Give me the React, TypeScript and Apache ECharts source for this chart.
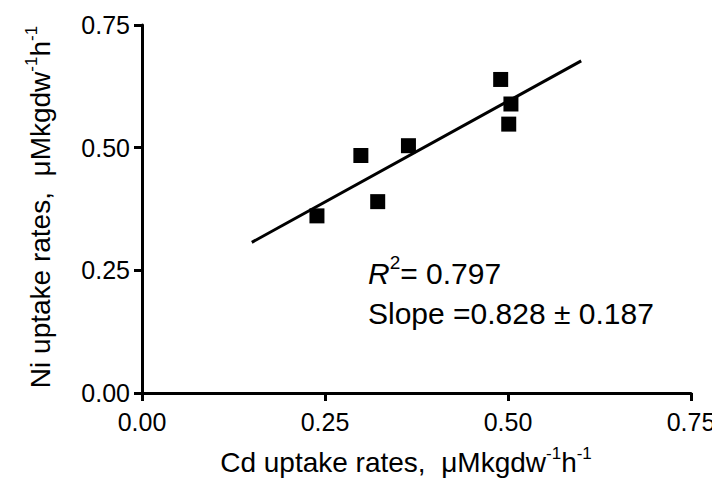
import React, { useEffect, useRef } from "react";
import * as echarts from "echarts";

const cdUptake = [0.239, 0.299, 0.322, 0.364, 0.49, 0.504, 0.501];
const niUptake = [0.361, 0.484, 0.39, 0.504, 0.639, 0.589, 0.548];
const fitX = [0.15, 0.6];
const fitY = [0.307, 0.677];
const rSquared = "0.797";
const slopeText = "0.828 ± 0.187";

const FONT = "Liberation Sans, Arial, sans-serif";

export default function App() {
  const ref = useRef<HTMLDivElement>(null);
  useEffect(() => {
    if (!ref.current) return;
    const chart = echarts.init(ref.current, undefined, { renderer: "svg" });
    const axisCommon = {
      type: "value" as const,
      min: 0,
      max: 0.75,
      interval: 0.25,
      splitLine: { show: false },
      axisLine: { show: true, lineStyle: { color: "#000", width: 3 } },
      axisTick: { show: true, length: 8, lineStyle: { color: "#000", width: 3 } },
      axisLabel: {
        color: "#000",
        fontSize: 25,
        fontFamily: FONT,
        formatter: (v: number) => v.toFixed(2),
      },
    };
    const titleRich = {
      n: { fontSize: 28, fontFamily: FONT, lineHeight: 34, fill: "#000" },
      s: { fontSize: 17, fontFamily: FONT, lineHeight: 34, verticalAlign: "top", fill: "#000" },
    };
    chart.setOption({
      animation: false,
      backgroundColor: "#fff",
      grid: { left: 134, right: 29, top: 17, bottom: 100, containLabel: false },
      xAxis: { ...axisCommon, axisLabel: { ...axisCommon.axisLabel, margin: 16 } },
      yAxis: { ...axisCommon, axisLabel: { ...axisCommon.axisLabel, margin: 12 } },
      series: [
        {
          type: "scatter",
          symbol: "rect",
          symbolSize: 15,
          itemStyle: { color: "#000", opacity: 1 },
          data: cdUptake.map((x, i) => [x, niUptake[i]]),
        },
        {
          type: "line",
          showSymbol: false,
          symbol: "none",
          lineStyle: { color: "#000", width: 3 },
          data: fitX.map((x, i) => [x, fitY[i]]),
        },
      ],
      graphic: [
        {
          type: "text",
          x: 32,
          y: 199,
          rotation: Math.PI / 2,
          style: {
            text: "{n|Ni uptake rates,  μMkgdw}{s|-1}{n|h}{s|-1}",
            align: "center",
            verticalAlign: "middle",
            fill: "#000",
            rich: titleRich,
          },
        },
        {
          type: "text",
          x: 398,
          y: 454,
          style: {
            text: "{n|Cd uptake rates,  μMkgdw}{s|-1}{n|h}{s|-1}",
            align: "center",
            verticalAlign: "middle",
            fill: "#000",
            rich: titleRich,
          },
        },
        {
          type: "text",
          x: 360,
          y: 245,
          style: {
            text: "{i|R}{s|2}{n|= " + rSquared + "}\n{n|Slope =" + slopeText + "}",
            align: "left",
            verticalAlign: "top",
            fill: "#000",
            rich: {
              i: { fontSize: 30, fontStyle: "italic", fontFamily: FONT, lineHeight: 40, fill: "#000" },
              n: { fontSize: 30, fontFamily: FONT, lineHeight: 40, fill: "#000" },
              s: { fontSize: 19, fontFamily: FONT, lineHeight: 40, verticalAlign: "top", fill: "#000" },
            },
          },
        },
      ],
    });
    return () => chart.dispose();
  }, []);
  return <div ref={ref} style={{ width: 712, height: 485 }} />;
}
